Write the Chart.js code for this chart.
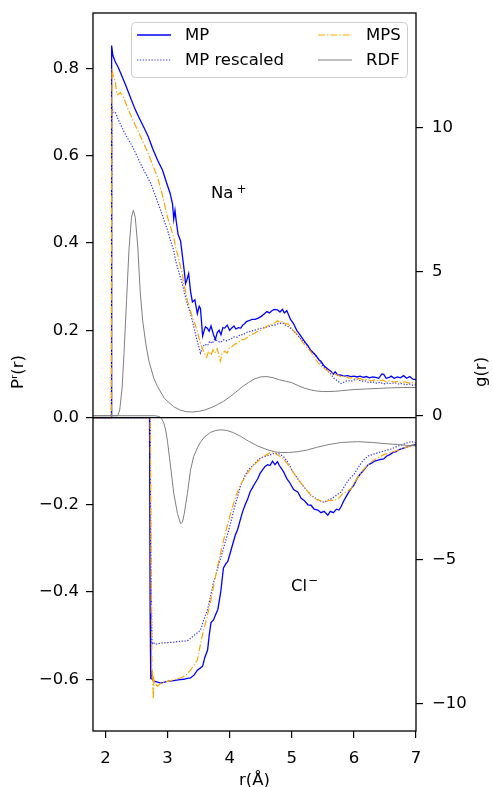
<!DOCTYPE html>
<html><head><meta charset="utf-8">
<script src="https://cdn.jsdelivr.net/npm/chart.js@4.4.1/dist/chart.umd.min.js"></script>
<style>html,body{margin:0;padding:0;background:#fff;}canvas{display:block;}</style>
</head><body>
<canvas id="c" width="493" height="787"></canvas>
<script>
// ---- tick labels / categories ----
const xTicks = [2, 3, 4, 5, 6, 7];
const leftTicks = [-0.6, -0.4, -0.2, 0, 0.2, 0.4, 0.6, 0.8];
const rightTicks = [-10, -5, 0, 5, 10];
const seriesNames = ['MP', 'MP rescaled', 'MPS', 'RDF'];
const ionLabels = ['Na', '+', 'Cl', '−'];

// ---- Na+ (positive side), [r, P(r)] ----
const naMP = [[1.8,0],[2.095,0],[2.1,0.853],[2.12,0.83],[2.16,0.815],[2.2,0.805],[2.26,0.785],[2.32,0.764],[2.4,0.735],[2.48,0.706],[2.55,0.685],[2.62,0.665],[2.69,0.644],[2.76,0.617],[2.84,0.59],[2.92,0.567],[2.98,0.54],[3.04,0.515],[3.08,0.49],[3.1,0.455],[3.12,0.475],[3.14,0.45],[3.17,0.42],[3.21,0.405],[3.24,0.37],[3.27,0.335],[3.29,0.307],[3.31,0.315],[3.34,0.33],[3.37,0.29],[3.4,0.265],[3.44,0.27],[3.48,0.238],[3.51,0.255],[3.53,0.25],[3.565,0.187],[3.59,0.2],[3.61,0.208],[3.64,0.205],[3.67,0.198],[3.7,0.21],[3.74,0.19],[3.77,0.179],[3.8,0.195],[3.83,0.2],[3.86,0.19],[3.89,0.206],[3.92,0.205],[3.96,0.212],[4.0,0.2],[4.03,0.205],[4.07,0.21],[4.1,0.203],[4.14,0.206],[4.18,0.205],[4.21,0.212],[4.24,0.215],[4.27,0.22],[4.31,0.222],[4.36,0.225],[4.41,0.225],[4.46,0.228],[4.51,0.232],[4.56,0.238],[4.6,0.243],[4.64,0.24],[4.68,0.245],[4.72,0.248],[4.77,0.247],[4.81,0.242],[4.85,0.248],[4.88,0.24],[4.92,0.245],[4.95,0.235],[4.98,0.225],[5.03,0.215],[5.08,0.2],[5.13,0.19],[5.18,0.18],[5.22,0.172],[5.26,0.165],[5.3,0.155],[5.35,0.148],[5.4,0.14],[5.44,0.132],[5.47,0.129],[5.51,0.12],[5.55,0.115],[5.59,0.11],[5.63,0.106],[5.67,0.1],[5.7,0.105],[5.74,0.097],[5.78,0.098],[5.84,0.095],[5.9,0.096],[5.95,0.094],[6.0,0.095],[6.05,0.093],[6.1,0.095],[6.15,0.092],[6.2,0.094],[6.25,0.091],[6.3,0.093],[6.35,0.092],[6.4,0.09],[6.45,0.1],[6.48,0.099],[6.52,0.09],[6.57,0.092],[6.6,0.095],[6.65,0.09],[6.7,0.093],[6.75,0.091],[6.8,0.096],[6.85,0.09],[6.9,0.094],[6.95,0.088],[7.0,0.087]];
const naMPrescaled = [[1.8,0],[2.095,0],[2.1,0.4],[2.105,0.715],[2.12,0.70],[2.16,0.70],[2.2,0.685],[2.25,0.67],[2.3,0.655],[2.35,0.642],[2.4,0.63],[2.45,0.617],[2.5,0.602],[2.55,0.587],[2.6,0.572],[2.66,0.556],[2.73,0.537],[2.8,0.51],[2.85,0.49],[2.89,0.475],[2.95,0.45],[3.0,0.429],[3.05,0.405],[3.1,0.383],[3.13,0.36],[3.16,0.344],[3.2,0.325],[3.25,0.3],[3.3,0.27],[3.33,0.255],[3.37,0.238],[3.42,0.21],[3.47,0.18],[3.53,0.148],[3.56,0.16],[3.6,0.168],[3.645,0.165],[3.68,0.175],[3.72,0.17],[3.76,0.18],[3.81,0.175],[3.85,0.172],[3.9,0.178],[3.95,0.176],[4.02,0.18],[4.07,0.185],[4.12,0.184],[4.17,0.19],[4.22,0.19],[4.27,0.195],[4.34,0.198],[4.4,0.2],[4.46,0.203],[4.52,0.205],[4.58,0.207],[4.66,0.21],[4.72,0.212],[4.78,0.215],[4.85,0.217],[4.9,0.212],[4.95,0.208],[5.0,0.203],[5.05,0.195],[5.1,0.188],[5.15,0.18],[5.19,0.175],[5.25,0.165],[5.3,0.155],[5.35,0.148],[5.42,0.136],[5.47,0.125],[5.52,0.115],[5.57,0.108],[5.63,0.099],[5.68,0.09],[5.73,0.085],[5.79,0.078],[5.85,0.082],[5.9,0.085],[5.95,0.083],[6.0,0.086],[6.06,0.088],[6.12,0.083],[6.18,0.084],[6.24,0.08],[6.3,0.082],[6.36,0.079],[6.42,0.081],[6.48,0.077],[6.54,0.079],[6.6,0.078],[6.66,0.08],[6.72,0.077],[6.78,0.078],[6.84,0.075],[6.9,0.077],[6.95,0.074],[7.0,0.075]];
const naMPS = [[1.8,0],[2.095,0],[2.1,0.5],[2.105,0.8],[2.115,0.79],[2.13,0.78],[2.16,0.77],[2.18,0.745],[2.2,0.74],[2.24,0.745],[2.29,0.735],[2.33,0.72],[2.37,0.705],[2.41,0.693],[2.45,0.68],[2.49,0.667],[2.53,0.655],[2.57,0.643],[2.61,0.63],[2.65,0.618],[2.69,0.605],[2.73,0.59],[2.77,0.575],[2.81,0.562],[2.84,0.55],[2.87,0.535],[2.9,0.52],[2.95,0.49],[3.0,0.459],[3.05,0.436],[3.1,0.413],[3.13,0.39],[3.17,0.37],[3.21,0.344],[3.24,0.33],[3.26,0.305],[3.29,0.29],[3.32,0.268],[3.36,0.25],[3.4,0.23],[3.44,0.215],[3.48,0.198],[3.51,0.18],[3.53,0.17],[3.565,0.157],[3.6,0.145],[3.63,0.138],[3.66,0.152],[3.7,0.143],[3.73,0.155],[3.76,0.148],[3.8,0.158],[3.83,0.14],[3.85,0.129],[3.88,0.148],[3.92,0.152],[3.96,0.148],[4.0,0.16],[4.04,0.163],[4.08,0.168],[4.12,0.17],[4.16,0.175],[4.2,0.178],[4.25,0.18],[4.29,0.185],[4.34,0.19],[4.39,0.192],[4.44,0.197],[4.5,0.2],[4.55,0.205],[4.6,0.21],[4.65,0.212],[4.7,0.216],[4.74,0.218],[4.77,0.222],[4.81,0.218],[4.85,0.22],[4.9,0.215],[4.94,0.215],[4.98,0.208],[5.02,0.2],[5.06,0.195],[5.1,0.188],[5.15,0.178],[5.2,0.168],[5.25,0.16],[5.31,0.15],[5.36,0.138],[5.41,0.128],[5.47,0.118],[5.52,0.113],[5.57,0.108],[5.63,0.103],[5.68,0.1],[5.74,0.097],[5.8,0.093],[5.86,0.095],[5.92,0.09],[5.98,0.092],[6.04,0.088],[6.1,0.09],[6.16,0.085],[6.22,0.088],[6.28,0.084],[6.34,0.087],[6.4,0.083],[6.46,0.086],[6.52,0.082],[6.58,0.085],[6.64,0.081],[6.7,0.083],[6.76,0.08],[6.82,0.082],[6.88,0.079],[6.94,0.08],[7.0,0.078]];
const naRDF = [[1.8,0],[2.2,0],[2.23,0.2],[2.27,1.0],[2.3,2.2],[2.34,4.0],[2.38,5.8],[2.42,6.9],[2.45,7.15],[2.48,6.9],[2.52,5.9],[2.56,4.3],[2.6,3.3],[2.65,2.5],[2.7,1.9],[2.78,1.3],[2.84,1.01],[2.95,0.6],[3.1,0.31],[3.2,0.2],[3.3,0.14],[3.4,0.13],[3.5,0.15],[3.6,0.2],[3.7,0.28],[3.8,0.38],[3.9,0.5],[4.0,0.65],[4.1,0.82],[4.2,1.0],[4.3,1.15],[4.4,1.28],[4.5,1.35],[4.6,1.36],[4.7,1.32],[4.8,1.25],[4.9,1.2],[5.0,1.15],[5.1,1.05],[5.2,0.96],[5.3,0.9],[5.4,0.86],[5.5,0.84],[5.6,0.84],[5.7,0.85],[5.8,0.87],[5.9,0.89],[6.0,0.91],[6.2,0.93],[6.4,0.95],[6.6,0.97],[6.8,0.98],[7.0,0.98]];

// ---- Cl- (negative side) ----
const clMP = [[1.8,0],[2.71,0],[2.72,-0.45],[2.73,-0.60],[2.745,-0.58],[2.755,-0.601],[2.8,-0.605],[2.89,-0.609],[3.0,-0.605],[3.1,-0.603],[3.2,-0.601],[3.26,-0.6],[3.32,-0.598],[3.37,-0.597],[3.43,-0.59],[3.48,-0.579],[3.52,-0.575],[3.565,-0.57],[3.6,-0.55],[3.645,-0.533],[3.67,-0.5],[3.7,-0.47],[3.74,-0.464],[3.78,-0.45],[3.81,-0.44],[3.855,-0.401],[3.9,-0.345],[3.94,-0.335],[3.97,-0.33],[4.01,-0.31],[4.05,-0.29],[4.09,-0.27],[4.13,-0.256],[4.17,-0.235],[4.21,-0.215],[4.25,-0.2],[4.29,-0.187],[4.33,-0.17],[4.37,-0.16],[4.41,-0.15],[4.45,-0.141],[4.49,-0.128],[4.53,-0.12],[4.57,-0.112],[4.61,-0.108],[4.65,-0.11],[4.69,-0.1],[4.73,-0.108],[4.77,-0.101],[4.8,-0.11],[4.84,-0.118],[4.87,-0.125],[4.92,-0.14],[4.97,-0.15],[5.03,-0.165],[5.1,-0.171],[5.15,-0.185],[5.2,-0.19],[5.26,-0.2],[5.31,-0.201],[5.36,-0.21],[5.42,-0.212],[5.47,-0.218],[5.52,-0.215],[5.58,-0.224],[5.62,-0.215],[5.67,-0.218],[5.72,-0.21],[5.76,-0.212],[5.79,-0.205],[5.84,-0.19],[5.88,-0.18],[5.93,-0.168],[5.97,-0.16],[6.0,-0.155],[6.05,-0.14],[6.1,-0.13],[6.15,-0.122],[6.2,-0.113],[6.23,-0.108],[6.28,-0.105],[6.33,-0.1],[6.38,-0.098],[6.43,-0.096],[6.48,-0.095],[6.53,-0.088],[6.58,-0.085],[6.63,-0.08],[6.68,-0.078],[6.72,-0.074],[6.76,-0.072],[6.8,-0.07],[6.85,-0.068],[6.9,-0.065],[6.95,-0.063],[7.0,-0.062]];
const clMPrescaled = [[1.8,0],[2.72,0],[2.73,-0.3],[2.75,-0.52],[2.77,-0.515],[2.8,-0.52],[2.89,-0.517],[3.0,-0.516],[3.1,-0.515],[3.2,-0.513],[3.32,-0.512],[3.38,-0.505],[3.42,-0.5],[3.47,-0.495],[3.53,-0.487],[3.58,-0.465],[3.645,-0.44],[3.7,-0.405],[3.74,-0.378],[3.78,-0.36],[3.82,-0.339],[3.86,-0.32],[3.9,-0.3],[3.95,-0.275],[4.02,-0.24],[4.07,-0.21],[4.12,-0.185],[4.18,-0.155],[4.24,-0.135],[4.3,-0.12],[4.39,-0.108],[4.47,-0.095],[4.55,-0.09],[4.62,-0.087],[4.7,-0.083],[4.78,-0.082],[4.87,-0.09],[4.95,-0.105],[5.02,-0.125],[5.1,-0.141],[5.2,-0.16],[5.31,-0.178],[5.4,-0.187],[5.47,-0.192],[5.52,-0.194],[5.58,-0.19],[5.65,-0.185],[5.72,-0.178],[5.79,-0.171],[5.86,-0.155],[5.93,-0.14],[6.0,-0.131],[6.08,-0.112],[6.15,-0.098],[6.23,-0.088],[6.3,-0.085],[6.4,-0.08],[6.5,-0.076],[6.6,-0.072],[6.7,-0.066],[6.8,-0.061],[6.92,-0.055],[7.0,-0.058]];
const clMPS = [[1.8,0],[2.72,0],[2.735,-0.3],[2.75,-0.6],[2.76,-0.58],[2.77,-0.645],[2.78,-0.6],[2.8,-0.61],[2.84,-0.616],[2.9,-0.608],[3.0,-0.605],[3.1,-0.601],[3.21,-0.597],[3.3,-0.59],[3.37,-0.579],[3.43,-0.567],[3.48,-0.556],[3.53,-0.52],[3.58,-0.487],[3.64,-0.455],[3.69,-0.424],[3.75,-0.38],[3.81,-0.339],[3.87,-0.3],[3.93,-0.265],[4.02,-0.217],[4.1,-0.18],[4.17,-0.155],[4.23,-0.141],[4.3,-0.125],[4.38,-0.11],[4.45,-0.101],[4.52,-0.092],[4.6,-0.085],[4.66,-0.08],[4.71,-0.078],[4.76,-0.085],[4.82,-0.09],[4.87,-0.095],[4.95,-0.11],[5.02,-0.125],[5.1,-0.141],[5.2,-0.16],[5.31,-0.178],[5.4,-0.188],[5.45,-0.19],[5.52,-0.194],[5.6,-0.19],[5.67,-0.19],[5.74,-0.187],[5.82,-0.175],[5.88,-0.17],[5.95,-0.164],[6.05,-0.14],[6.16,-0.118],[6.25,-0.105],[6.35,-0.095],[6.48,-0.085],[6.6,-0.08],[6.76,-0.072],[6.85,-0.068],[6.97,-0.06],[7.0,-0.06]];
const clRDF = [[1.8,0],[2.8,0],[2.87,-0.03],[2.9,-0.08],[2.94,-0.25],[2.97,-0.5],[3.0,-0.9],[3.05,-1.78],[3.1,-2.7],[3.16,-3.4],[3.21,-3.75],[3.24,-3.7],[3.27,-3.4],[3.32,-2.7],[3.37,-1.89],[3.42,-1.42],[3.48,-1.12],[3.53,-0.92],[3.59,-0.75],[3.69,-0.58],[3.78,-0.51],[3.86,-0.49],[3.95,-0.51],[4.05,-0.58],[4.18,-0.72],[4.3,-0.88],[4.45,-1.05],[4.6,-1.18],[4.72,-1.25],[4.82,-1.28],[4.95,-1.28],[5.1,-1.25],[5.25,-1.19],[5.4,-1.1],[5.6,-1.0],[5.8,-0.93],[6.06,-0.9],[6.3,-0.93],[6.5,-0.97],[6.7,-1.0],[6.85,-1.03],[7.0,-1.05]];
const zeroLine = [[1.8,0],[7,0]];

const FONT = 'DejaVu Sans';
const FS = 16.5;
const pts = a => a.map(p => ({x: p[0], y: p[1]}));
const styles = {
  MP: {borderColor: '#0000ff', borderWidth: 1.3, borderDash: []},
  MPr: {borderColor: 'rgba(0,0,255,0.8)', borderWidth: 1.2, borderDash: [1.3, 1.6]},
  MPS: {borderColor: '#ffa500', borderWidth: 1.2, borderDash: [7, 2, 1.3, 2]},
  RDF: {borderColor: '#7f7f7f', borderWidth: 1.0, borderDash: []}
};
function ds(label, data, st, axis) {
  return Object.assign({label, data: pts(data), yAxisID: axis, showLine: true, pointRadius: 0, fill: false, tension: 0}, st);
}
const datasets = [
  ds('zero', zeroLine, {borderColor: '#000', borderWidth: 1.3, borderDash: []}, 'y'),
  ds(seriesNames[3], naRDF, styles.RDF, 'y2'),
  ds(seriesNames[3], clRDF, styles.RDF, 'y2'),
  ds(seriesNames[2], naMPS, styles.MPS, 'y'),
  ds(seriesNames[2], clMPS, styles.MPS, 'y'),
  ds(seriesNames[1], naMPrescaled, styles.MPr, 'y'),
  ds(seriesNames[1], clMPrescaled, styles.MPr, 'y'),
  ds(seriesNames[0], naMP, styles.MP, 'y'),
  ds(seriesNames[0], clMP, styles.MP, 'y')
];

const minus = s => String(s).replace('-', '−');
const gridOpt = {display: true, drawOnChartArea: false, drawTicks: true, tickLength: 7, color: '#000', lineWidth: 1.2};

const deco = {
  id: 'deco',
  afterDraw(chart) {
    const ctx = chart.ctx, a = chart.chartArea;
    ctx.save();
    ctx.strokeStyle = '#000'; ctx.lineWidth = 1.3;
    ctx.strokeRect(a.left, a.top, a.right - a.left, a.bottom - a.top);
    // legend
    const bx = 131, by = 22, bw = 276, bh = 55;
    ctx.beginPath();
    if (ctx.roundRect) ctx.roundRect(bx + 0.5, by + 0.5, bw, bh, 4); else ctx.rect(bx + 0.5, by + 0.5, bw, bh);
    ctx.fillStyle = 'rgba(255,255,255,0.85)'; ctx.fill();
    ctx.strokeStyle = '#cccccc'; ctx.lineWidth = 1; ctx.stroke();
    const entries = [
      {n: seriesNames[0], s: styles.MP, x: 137, y: 35},
      {n: seriesNames[1], s: styles.MPr, x: 137, y: 60},
      {n: seriesNames[2], s: styles.MPS, x: 318, y: 35},
      {n: seriesNames[3], s: styles.RDF, x: 318, y: 60}
    ];
    ctx.font = FS + 'px "' + FONT + '"';
    ctx.textBaseline = 'middle'; ctx.textAlign = 'left';
    entries.forEach(e => {
      ctx.beginPath(); ctx.strokeStyle = e.s.borderColor; ctx.lineWidth = e.s.borderWidth;
      ctx.setLineDash(e.s.borderDash); ctx.moveTo(e.x, e.y); ctx.lineTo(e.x + 34, e.y); ctx.stroke();
      ctx.setLineDash([]);
      ctx.fillStyle = '#000'; ctx.fillText(e.n, e.x + 48, e.y + 1);
    });
    // ion labels
    ctx.textBaseline = 'alphabetic';
    ctx.fillStyle = '#000';
    ctx.font = FS + 'px "' + FONT + '"';
    ctx.fillText(ionLabels[0], 211, 198);
    let w = ctx.measureText(ionLabels[0]).width;
    ctx.font = '12px "' + FONT + '"';
    ctx.fillText(ionLabels[1], 211 + w + 3, 193);
    ctx.font = FS + 'px "' + FONT + '"';
    ctx.fillText(ionLabels[2], 291, 591);
    w = ctx.measureText(ionLabels[2]).width;
    ctx.font = '12px "' + FONT + '"';
    ctx.fillText(ionLabels[3], 291 + w + 1, 584);
    // right axis title
    ctx.font = FS + 'px "' + FONT + '"';
    ctx.translate(482, (a.top + a.bottom) / 2);
    ctx.rotate(-Math.PI / 2);
    ctx.textAlign = 'center'; ctx.textBaseline = 'middle';
    ctx.fillText('g(r)', 0, 0);
    ctx.restore();
  }
};

function fitV(w) { return s => { s.width = w; s.paddingTop = 0; s.paddingBottom = 0; }; }

new Chart(document.getElementById('c'), {
  type: 'scatter',
  data: {datasets},
  plugins: [deco],
  options: {
    responsive: false, animation: false, devicePixelRatio: 1,
    layout: {padding: {top: 13, left: 0, right: 0, bottom: 0}},
    plugins: {legend: {display: false}, tooltip: {enabled: false}},
    elements: {point: {radius: 0}, line: {tension: 0}},
    scales: {
      x: {
        type: 'linear', min: 1.8, max: 7,
        afterFit(s) { s.height = 56; s.paddingLeft = 0; s.paddingRight = 0; },
        afterBuildTicks(s) { s.ticks = xTicks.map(v => ({value: v})); },
        ticks: {color: '#000', font: {family: FONT, size: FS}, padding: 10.5, maxRotation: 0, callback: v => String(v)},
        grid: gridOpt, border: {display: false},
        title: {display: true, text: 'r(Å)', color: '#000', font: {family: FONT, size: FS, lineHeight: 1}, padding: {top: 0, bottom: -2}}
      },
      y: {
        type: 'linear', position: 'left', min: -0.7186, max: 0.9275,
        afterFit: fitV(93),
        afterBuildTicks(s) { s.ticks = leftTicks.map(v => ({value: v})); },
        ticks: {color: '#000', font: {family: FONT, size: FS}, padding: 7, callback: v => minus(v.toFixed(1))},
        grid: gridOpt, border: {display: false},
        title: {display: true, text: 'Pʳ(r)', color: '#000', font: {family: FONT, size: FS, lineHeight: 1}, padding: {top: 10, bottom: 0}}
      },
      y2: {
        type: 'linear', position: 'right', min: -10.96, max: 14.0,
        afterFit: fitV(77),
        afterBuildTicks(s) { s.ticks = rightTicks.map(v => ({value: v})); },
        ticks: {color: '#000', font: {family: FONT, size: FS}, padding: 9, callback: v => minus(v)},
        grid: gridOpt, border: {display: false}
      }
    }
  }
});
</script>
</body></html>
